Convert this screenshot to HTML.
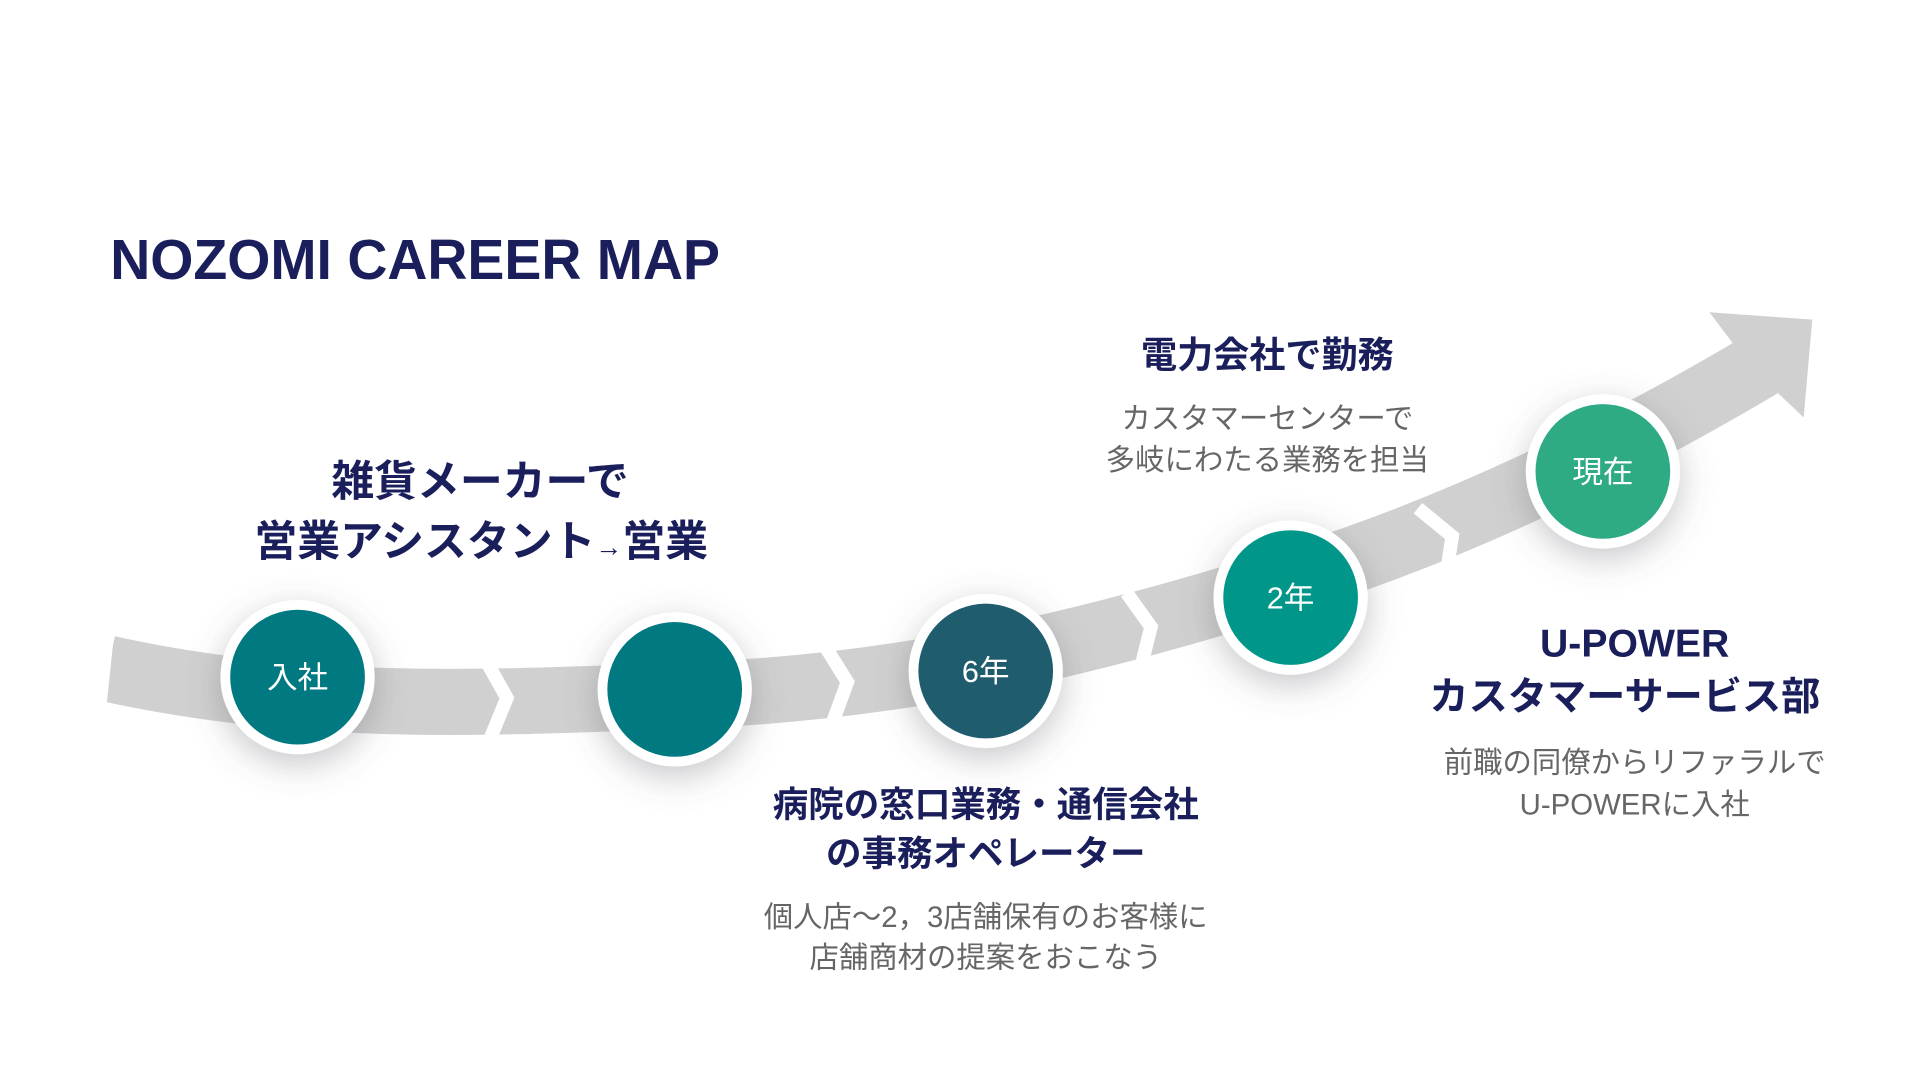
<!DOCTYPE html>
<html><head><meta charset="utf-8"><style>
html,body{margin:0;padding:0;background:#fff;width:1920px;height:1080px;overflow:hidden}
svg{display:block}
text{font-family:"Liberation Sans","Noto Sans CJK JP",sans-serif}
</style></head><body>
<svg width="1920" height="1080" viewBox="0 0 1568 882" xmlns="http://www.w3.org/2000/svg">
<defs>
<filter id="sh" x="-60%" y="-60%" width="220%" height="220%">
<feDropShadow dx="0" dy="8" stdDeviation="14" flood-color="#5a6066" flood-opacity="0.35"/>
</filter>
</defs>
<rect width="1568" height="882" fill="#fff"/>
<text x="90" y="228" font-size="46" font-weight="bold" fill="#1a1f5c" textLength="498" lengthAdjust="spacingAndGlyphs">NOZOMI CAREER MAP</text>

<path d="M88,546 C 250,582 400,574 560,568 C 750,561 900,522 1060,472 C 1200,428 1330,362 1438,298" fill="none" stroke="#d0d0d0" stroke-width="54"/>
<polygon points="1396,255 1480,261 1473,341 1430,300" fill="#d0d0d0"/>
<rect x="60" y="500" width="30" height="100" fill="#fff" transform="rotate(6 90 548)"/>
<g fill="none" stroke="#fff" stroke-width="11" stroke-linejoin="miter">
<polyline points="396,538 414,570 400,604"/>
<polyline points="674,528 692,557 680,590"/>
<polyline points="920,484 940,512 930,552"/>
<polyline points="1158,415 1186,438 1180,476"/>
</g>

<g filter="url(#sh)">
<circle cx="243" cy="553" r="63" fill="#fff"/>
<circle cx="551" cy="563" r="63" fill="#fff"/>
<circle cx="805" cy="548" r="63" fill="#fff"/>
<circle cx="1054" cy="488" r="63" fill="#fff"/>
<circle cx="1309" cy="385" r="63" fill="#fff"/>
</g>
<circle cx="243" cy="553" r="55" fill="#007a80"/>
<circle cx="551" cy="563" r="55" fill="#007a80"/>
<circle cx="805" cy="548" r="55" fill="#1f5d6e"/>
<circle cx="1054" cy="488" r="55" fill="#00968a"/>
<circle cx="1309" cy="385" r="55" fill="#2eaa85"/>
<g fill="#fff" font-size="25" text-anchor="middle">
<text x="243" y="562">入社</text>
<text x="805" y="557">6年</text>
<text x="1054" y="497">2年</text>
<text x="1309" y="394">現在</text>
</g>

<g fill="#1a1f5c" font-weight="bold" text-anchor="middle">
<text x="392" y="405" font-size="35">雑貨メーカーで</text>
<text x="393" y="454" font-size="35">営業アシスタント<tspan font-size="22">→</tspan>営業</text>
<text x="1035" y="300" font-size="29.5">電力会社で勤務</text>
<text x="805" y="667" font-size="29">病院の窓口業務・通信会社</text>
<text x="805" y="707" font-size="29">の事務オペレーター</text>
<text x="1335" y="536" font-size="32">U-POWER</text>
<text x="1327" y="580" font-size="32">カスタマーサービス部</text>
</g>
<g fill="#666" font-size="24" text-anchor="middle">
<text x="1035" y="350">カスタマーセンターで</text>
<text x="1035" y="384">多岐にわたる業務を担当</text>
<text x="805" y="757">個人店〜2，3店舗保有のお客様に</text>
<text x="805" y="790">店舗商材の提案をおこなう</text>
<text x="1335" y="631">前職の同僚からリファラルで</text>
<text x="1335" y="665">U-POWERに入社</text>
</g>
</svg>
</body></html>
